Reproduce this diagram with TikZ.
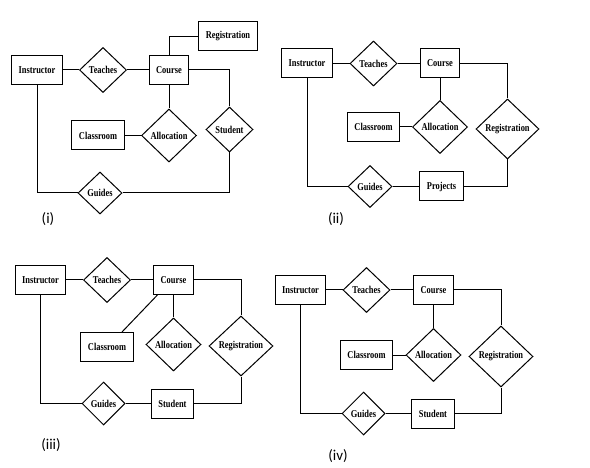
\documentclass[tikz,border=0pt]{standalone}
\usepackage{fontspec}
\usetikzlibrary{shapes.geometric}
\newfontfamily\erfont[FakeStretch=0.8]{Liberation Serif}
\newfontfamily\capfont{Carlito}

\begin{document}
\begin{tikzpicture}[x=1pt, y=-1pt]
    \tikzstyle{entity}=[
        draw = black,
        line width = 1pt,
        fill = white,
        rectangle,
        minimum height = 29pt,
        inner xsep = 7pt,
        font = \fontsize{10.5}{12}\erfont\bfseries
    ]
    \tikzstyle{relation}=[
        draw = black,
        line width = 1pt,
        fill = white,
        diamond,
        inner sep = 0pt,
        minimum width = 47pt,
        minimum height = 45pt,
        font = \fontsize{10.5}{12}\erfont\bfseries
    ]
    \tikzstyle{big relation}=[relation, minimum width = 55pt, minimum height = 53pt]
    \tikzstyle{link}=[-, line width = 1pt]
    \tikzstyle{caption}=[font = \fontsize{15}{17}\capfont]

    \useasboundingbox (0,0) rectangle (590,468);

    % (i)
	\node[entity]       (ins1) at (37, 70)      {Instructor};
	\node[relation]     (tea1) at (103, 70)     {Teaches};
	\node[entity]       (cou1) at (169, 70)     {Course};
	\node[entity]       (reg1) at (228, 36.5)   {Registration};
	\node[relation]     (stu1) at (229.5, 129.5) {Student};
	\node[big relation] (all1) at (169, 135.5)  {Allocation};
	\node[entity]       (cla1) at (98, 135.5)   {Classroom};
	\node[relation, minimum width=44pt, minimum height=42pt] (gui1) at (100, 193) {Guides};
	\node[caption]      (lab1) at (48, 219)     {(i)};

	\draw[link] (ins1) -- (tea1);
	\draw[link] (tea1) -- (cou1);
	\draw[link] (cou1.north) |- (reg1.west);
	\draw[link] (cou1.east) -| (stu1.north);
	\draw[link] (cou1) -- (all1);
	\draw[link] (cla1) -- (all1);
	\draw[link] (ins1.south) |- (gui1.west);
	\draw[link] (gui1.east) -| (stu1.south);

    % (ii)
	\node[entity]       (ins2) at (307, 63.5)   {Instructor};
	\node[relation]     (tea2) at (373.5, 63.5) {Teaches};
	\node[entity]       (cou2) at (440, 63.5)   {Course};
	\node[relation, minimum width=63pt, minimum height=60pt] (reg2) at (507.5, 129) {Registration};
	\node[big relation] (all2) at (440, 127)    {Allocation};
	\node[entity]       (cla2) at (373.5, 127)  {Classroom};
	\node[relation, minimum width=44pt, minimum height=42pt] (gui2) at (370, 186.5) {Guides};
	\node[entity]       (pro2) at (441.5, 186.5) {Projects};
	\node[caption]      (lab2) at (336, 219)    {(ii)};

	\draw[link] (ins2) -- (tea2);
	\draw[link] (tea2) -- (cou2);
	\draw[link] (cou2.east) -| (reg2.north);
	\draw[link] (cou2) -- (all2);
	\draw[link] (cla2) -- (all2);
	\draw[link] (ins2.south) |- (gui2.west);
	\draw[link] (gui2) -- (pro2);
	\draw[link] (pro2.east) -| (reg2.south);

    % (iii)
	\node[entity]       (ins3) at (40.5, 280)   {Instructor};
	\node[relation]     (tea3) at (107, 280)    {Teaches};
	\node[entity]       (cou3) at (173.5, 280)  {Course};
	\node[relation, minimum width=64pt, minimum height=60pt] (reg3) at (241, 346) {Registration};
	\node[big relation] (all3) at (173.5, 344.5) {Allocation};
	\node[entity]       (cla3) at (107, 347)    {Classroom};
	\node[relation, minimum width=43pt, minimum height=43pt] (gui3) at (103.5, 403.5) {Guides};
	\node[entity]       (stu3) at (172.5, 403.5) {Student};
	\node[caption]      (lab3) at (51, 445)     {(iii)};

	\draw[link] (ins3) -- (tea3);
	\draw[link] (tea3) -- (cou3);
	\draw[link] (cou3.east) -| (reg3.north);
	\draw[link] (cou3) -- (all3);
	\draw[link] (cou3.223) -- (cla3.45);
	\draw[link] (ins3.south) |- (gui3.west);
	\draw[link] (gui3) -- (stu3);
	\draw[link] (stu3.east) -| (reg3.south);

    % (iv)
	\node[entity]       (ins4) at (300.5, 290)  {Instructor};
	\node[relation]     (tea4) at (366.5, 290)  {Teaches};
	\node[entity]       (cou4) at (433.5, 290)  {Course};
	\node[relation, minimum width=64pt, minimum height=61pt] (reg4) at (501, 356.5) {Registration};
	\node[big relation] (all4) at (433.5, 355)  {Allocation};
	\node[entity]       (cla4) at (366.5, 355)  {Classroom};
	\node[relation, minimum width=43pt, minimum height=43pt] (gui4) at (363.5, 413.5) {Guides};
	\node[entity]       (stu4) at (433, 413.5)  {Student};
	\node[caption]      (lab4) at (338, 456)    {(iv)};

	\draw[link] (ins4) -- (tea4);
	\draw[link] (tea4) -- (cou4);
	\draw[link] (cou4.east) -| (reg4.north);
	\draw[link] (cou4) -- (all4);
	\draw[link] (cla4) -- (all4);
	\draw[link] (ins4.south) |- (gui4.west);
	\draw[link] (gui4) -- (stu4);
	\draw[link] (stu4.east) -| (reg4.south);

\end{tikzpicture}
\end{document}
